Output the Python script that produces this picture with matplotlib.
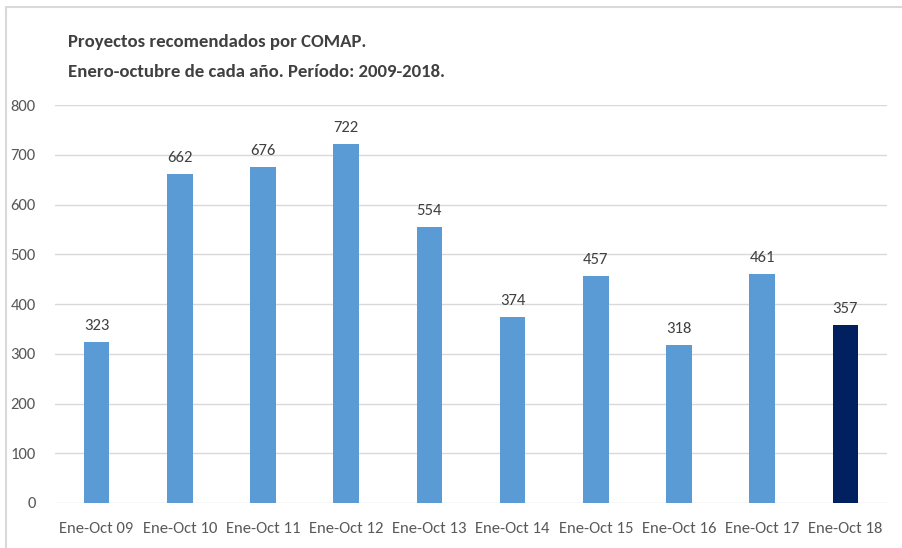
import matplotlib
matplotlib.use("Agg")
import matplotlib.pyplot as plt
from matplotlib import font_manager as fm
from matplotlib.patches import Rectangle

categories = ["Ene-Oct 09", "Ene-Oct 10", "Ene-Oct 11", "Ene-Oct 12", "Ene-Oct 13",
              "Ene-Oct 14", "Ene-Oct 15", "Ene-Oct 16", "Ene-Oct 17", "Ene-Oct 18"]
values = [323, 662, 676, 722, 554, 374, 457, 318, 461, 357]
colors = ["#5B9BD5"] * 9 + ["#002060"]
yticks = [0, 100, 200, 300, 400, 500, 600, 700, 800]
title_lines = ["Proyectos recomendados por COMAP.",
               "Enero-octubre de cada año. Período: 2009-2018."]

names = {f.name for f in fm.fontManager.ttflist}
fam = "DejaVu Sans"
for cand in ["Carlito", "Liberation Sans Narrow", "Open Sans Condensed", "Roboto Condensed", "Lato"]:
    if cand in names:
        fam = cand
        break
plt.rcParams["font.family"] = [fam, "DejaVu Sans"]

W, H = 902, 548
fig = plt.figure(figsize=(W / 100, H / 100), dpi=100)
ax = fig.add_axes([55 / W, 1 - 503 / H, (887 - 55) / W, (503 - 105) / H])

x = list(range(len(categories)))
ax.bar(x, values, width=0.31, color=colors, zorder=3)
for xi, v in zip(x, values):
    ax.text(xi, v + 18, str(v), ha="center", va="bottom", fontsize=12, color="#404040")

ax.set_xlim(-0.5, len(categories) - 0.5)
ax.set_ylim(0, 800)
ax.set_yticks(yticks)
ax.set_yticklabels([str(t) for t in yticks])
ax.set_xticks(x)
ax.set_xticklabels(categories)
ax.tick_params(axis="both", length=0, labelsize=12, labelcolor="#595959")
ax.tick_params(axis="x", pad=14)
ax.tick_params(axis="y", pad=14)
ax.grid(axis="y", color="#D9D9D9", linewidth=1, zorder=0)
for s in ax.spines.values():
    s.set_visible(False)

fig.text(68 / W, 1 - 42 / H, title_lines[0], fontsize=13.5, fontweight="bold", color="#404040", va="center")
fig.text(68 / W, 1 - 72 / H, title_lines[1], fontsize=13.5, fontweight="bold", color="#404040", va="center")

fig.patches.append(Rectangle((6 / W, -0.01), 1.02, 1 - 7 / H + 0.01, transform=fig.transFigure,
                             fill=False, edgecolor="#D9D9D9", linewidth=1.5))

fig.savefig("out.png", dpi=100)
